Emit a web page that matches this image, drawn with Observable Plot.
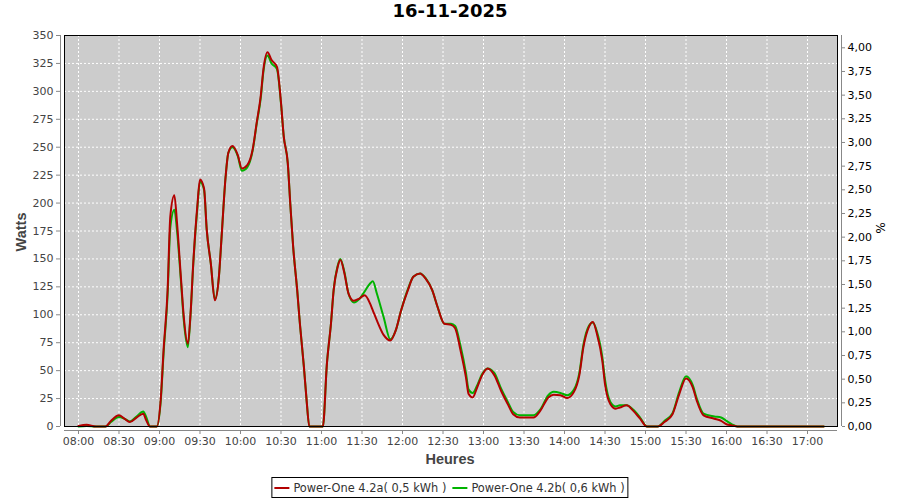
<!DOCTYPE html>
<html><head><meta charset="utf-8">
<script src="https://cdn.jsdelivr.net/npm/d3@7"></script>
<script src="https://cdn.jsdelivr.net/npm/@observablehq/plot@0.6"></script>
<style>
body{margin:0;background:#fff;}
#wrap{position:relative;width:900px;height:500px;overflow:hidden;font-family:"DejaVu Sans",sans-serif;}
#title{height:30px;line-height:28px;text-align:center;font:bold 18px "DejaVu Sans",sans-serif;color:#000;}
#chart svg{display:block;}
.lab{position:absolute;white-space:nowrap;transform:translate(-50%,-50%);}
#ylab{left:21px;top:232px;transform:translate(-50%,-50%) rotate(-90deg);font:bold 14.5px "Liberation Sans",sans-serif;color:#444;}
#y2lab{left:880px;top:228px;transform:translate(-50%,-50%) rotate(90deg);font:12px "DejaVu Sans",sans-serif;color:#000;}
#xlab{left:450px;top:459px;font:bold 14.5px "Liberation Sans",sans-serif;color:#444;}
#legend{position:absolute;left:450px;top:477px;transform:translateX(-50%);border:1px solid #000;height:19px;display:flex;align-items:center;padding:0 3px 0 2px;font:11.4px "DejaVu Sans",sans-serif;color:#333;white-space:nowrap;background:#fff;}
#legend .sw{display:inline-block;width:15px;height:2px;margin-right:4px;}
#legend .it{display:flex;align-items:center;margin-right:6px;}
#legend .it:last-child{margin-right:0;}
</style></head>
<body><div id="wrap">
<div id="title"></div>
<div id="chart"></div>
<div id="ylab" class="lab"></div>
<div id="y2lab" class="lab"></div>
<div id="xlab" class="lab"></div>
<div id="legend"></div>
</div>
<script>
const titleText = "16-11-2025";
const yLabel = "Watts", y2Label = "%", xLabel = "Heures";
const seriesNames = ["Power-One 4.2a( 0,5 kWh )", "Power-One 4.2b( 0,6 kWh )"];
const seriesColors = ["#b30000", "#00b300"];

const times = ["08:00","08:06","08:13","08:20","08:24","08:30","08:34","08:38","08:43","08:48","08:50","08:53","08:58",
"09:01","09:03","09:06","09:08","09:11","09:13","09:16","09:18","09:21","09:23","09:25","09:28","09:30","09:33","09:35","09:38","09:41","09:44","09:46","09:49","09:51","09:54","09:58",
"10:01","10:05","10:09","10:12","10:15","10:17","10:20","10:23","10:27","10:30","10:32","10:35","10:37","10:39","10:42","10:44","10:47","10:49","10:51",
"11:01","11:04","11:07","11:09","11:12","11:14","11:17","11:20","11:24","11:28","11:32","11:36","11:38","11:41","11:46","11:51","11:55","11:59",
"12:04","12:08","12:13","12:17","12:22","12:26","12:31","12:36","12:39","12:43","12:47","12:49","12:52","12:55","12:59",
"13:03","13:08","13:13","13:18","13:22","13:27","13:37","13:42","13:48","13:52","13:57",
"14:02","14:07","14:11","14:14","14:18","14:21","14:24","14:28","14:30","14:34","14:38","14:41","14:46","14:51","14:56",
"15:01","15:09","15:14","15:20","15:25","15:30","15:35","15:38","15:43","15:51","15:56",
"16:00","16:04","16:08","17:12"];

const wattsA = [0.5,1.5,0,0,5,10,7,4,8,11.5,6,0,0,
26,68,122,188,207,182,131,98,74,101,146,197,221,213,176,146,113,134,170,224,245,251,243,
231,234,248,272,296,320,335,328,322,290,260,236,197,161,122,92,53,23,0,
0,56,92,122,143,149,137,119,112.5,114.5,117.5,110,104,95,82,77,86,104,
122,134,137,132.5,122,107,92,91,88,68,44,29,26,34,46,
52,46,32,20,11,8,8,14,26,28.5,28,
25.5,31,46,71,89,93.5,83,59,38,20,16,17,19,14,7,
0,0,4,11,29,43,35,23,10,7,5,
2,1,0,0];

const wattsB = [0,0.5,0,0,4,8.5,7,4.5,9,13.5,9,0,0,
24,65,118,178,194,175,128,95,71,100,145,195,219,212,176,146,114,134,170,224,245,250,242,
229,232,247,271,294,318,332,325,320,289,260,236,197,161,122,92,53,23,0,
0,56,92,122,144,150,138,119,111,114,121,128,130,119,98,78,86,104,
123,134,137,133,122,107,92,92,90,72,48,33,30,36,47,
52,48,34,22,13,10,10,15,28,31,30,
28,33,48,73,90,93,85,62,42,22,18,19,19,15,8,
0,0,5,12,31,45,37,25,11.5,9,8,
5,2,0,0];

const xTicks = ["08:00","08:30","09:00","09:30","10:00","10:30","11:00","11:30","12:00","12:30","13:00","13:30","14:00","14:30","15:00","15:30","16:00","16:30","17:00"];
const xDomain = ["07:49:38","17:22:13"];
const wattTicks = [0,25,50,75,100,125,150,175,200,225,250,275,300,325,350];
const wattMax = 350;
const pctTicks = [0,0.25,0.5,0.75,1,1.25,1.5,1.75,2,2.25,2.5,2.75,3,3.25,3.5,3.75,4];
const pctMax = 4.13;

const day = s => { const [h,m,sec=0] = s.split(":").map(Number); return new Date(2025,10,16,h,m,sec); };

const rowsA = times.map((t,i)=>({t:day(t), w:wattsA[i]}));
const rowsB = times.map((t,i)=>({t:day(t), w:wattsB[i]}));
const xd = xDomain.map(day);
const fmt = d3.timeFormat("%H:%M");

const chart = Plot.plot({
  width: 900, height: 440,
  marginTop: 5, marginBottom: 44, marginLeft: 64, marginRight: 63,
  style: {fontFamily: "DejaVu Sans", fontSize: "11px", background: "transparent", overflow: "visible"},
  x: {type: "time", domain: xd},
  y: {domain: [0, wattMax]},
  marks: [
    Plot.frame({fill: "#cccccc", stroke: null}),
    Plot.gridX(xTicks.map(day), {stroke: "#fff", strokeOpacity: 1, strokeDasharray: "2,2"}),
    Plot.gridY(wattTicks, {stroke: "#fff", strokeOpacity: 1, strokeDasharray: "2,2"}),
    Plot.line(rowsB, {x: "t", y: "w", stroke: seriesColors[1], strokeWidth: 2, curve: "monotone-x"}),
    Plot.line(rowsA, {x: "t", y: "w", stroke: seriesColors[0], strokeWidth: 2, curve: "monotone-x"}),
    Plot.frame({stroke: "#000", strokeWidth: 1}),
    Plot.ruleX([xd[0]], {dx: -4, stroke: "#888"}),
    Plot.ruleX([xd[1]], {dx: 4, stroke: "#888"}),
    Plot.ruleY([0], {dy: 4, stroke: "#888"}),
    Plot.axisY(wattTicks, {anchor: "left", dx: -4, tickSize: 4, tickPadding: 3, stroke: "#888", fill: "#444", label: null, tickFormat: d => String(d)}),
    Plot.axisY(pctTicks.map(p => p * wattMax / pctMax), {anchor: "right", dx: 4, tickSize: 3, tickPadding: 3, stroke: "#888", fill: "#000", label: null,
      tickFormat: d => (d * pctMax / wattMax).toFixed(2).replace(".", ",")}),
    Plot.axisX(xTicks.map(day), {anchor: "bottom", dy: 4, tickSize: 4, tickPadding: 3, stroke: "#888", fill: "#444", label: null, tickFormat: fmt})
  ]
});
document.getElementById("chart").appendChild(chart);
document.getElementById("title").textContent = titleText;
document.getElementById("ylab").textContent = yLabel;
document.getElementById("y2lab").textContent = y2Label;
document.getElementById("xlab").textContent = xLabel;
const lg = document.getElementById("legend");
seriesNames.forEach((n,i)=>{
  const it = document.createElement("span"); it.className = "it";
  const sw = document.createElement("span"); sw.className = "sw"; sw.style.background = seriesColors[i];
  const tx = document.createElement("span"); tx.textContent = n;
  it.appendChild(sw); it.appendChild(tx); lg.appendChild(it);
});
</script>
</body></html>
